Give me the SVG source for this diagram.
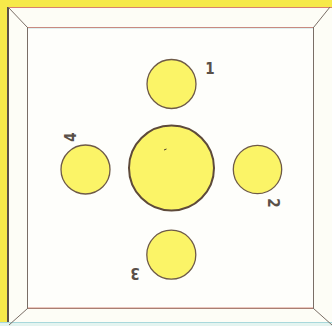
<svg xmlns="http://www.w3.org/2000/svg" width="332" height="326" viewBox="0 0 332 326">
<style>
.c{fill:#fbf467;stroke:#6e5a48;stroke-width:1.3}
.big{fill:#fbf467;stroke:#5e4a3a;stroke-width:2}
.ln{stroke:#7a6e66;stroke-width:1;fill:none}
.lbl{font-family:"DejaVu Sans Condensed","DejaVu Sans","Liberation Sans",sans-serif;font-stretch:condensed;font-weight:bold;font-size:15px;fill:#5a5048;text-anchor:middle}
</style>
<rect width="332" height="326" fill="#f6e94a"/>
<g id="frame">
<rect x="8" y="7" width="330" height="330" fill="#fdfdf6"/>
<line x1="8" y1="7.5" x2="332" y2="7.5" stroke="#d98070" stroke-width="1"/>
<line x1="8" y1="7" x2="8" y2="326" stroke="#5a5048" stroke-width="2"/>
<line x1="0" y1="322.5" x2="332" y2="322.5" stroke="#a8d8dc" stroke-width="1"/>
<rect x="0" y="323" width="332" height="3" fill="#e4f4f0"/>
<rect x="27.5" y="27.5" width="286" height="281" fill="#fefefb" stroke="#7a6e66" stroke-width="1"/>
<line x1="28" y1="27.5" x2="313" y2="27.5" stroke="#c88a80" stroke-width="1"/>
<line x1="28" y1="28.5" x2="313" y2="28.5" stroke="#c8e4e8" stroke-width="0.6"/>
<line x1="28" y1="308" x2="313" y2="308" stroke="#d89080" stroke-width="1"/>
<line x1="8" y1="7" x2="27.5" y2="27.5" class="ln"/>
<line x1="330" y1="7" x2="313.5" y2="27.5" class="ln"/>
<line x1="313.5" y1="308.5" x2="332" y2="325" class="ln"/>
<line x1="27.5" y1="308.5" x2="9" y2="325" class="ln"/>
</g>
<g id="center">
<circle class="big" cx="171.5" cy="168" r="42.5"/>
<line x1="164" y1="150" x2="166.5" y2="149" stroke="#4a3a30" stroke-width="1"/>
</g>
<g id="n1">
<circle class="c" cx="171.5" cy="84" r="24.5"/>
<text class="lbl" x="210" y="74">1</text>
</g>
<g id="n2">
<circle class="c" cx="257.5" cy="169.5" r="24.2"/>
<text class="lbl" transform="translate(273,203) rotate(90)" y="5.5">2</text>
</g>
<g id="n3">
<circle class="c" cx="171.3" cy="254.7" r="24.5"/>
<text class="lbl" transform="translate(135,273) rotate(180)" y="5.5">3</text>
</g>
<g id="n4">
<circle class="c" cx="85.5" cy="169.5" r="24.5"/>
<text class="lbl" transform="translate(70,137) rotate(-90)" y="5.5">4</text>
</g>
<g id="connectors"/>
</svg>
